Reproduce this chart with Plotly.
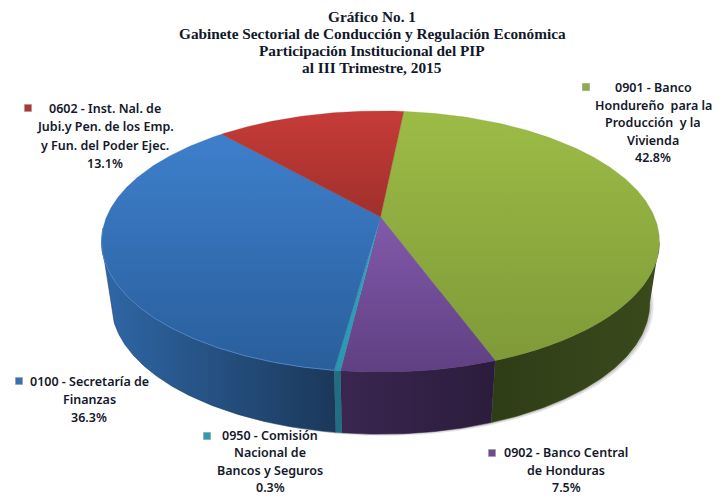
import numpy as np
import plotly.graph_objects as go

# ---- data ----
codes = ["0901", "0902", "0950", "0100", "0602"]
shares = [42.8, 7.5, 0.3, 36.3, 13.1]
title_lines = ["Gráfico No. 1",
               "Gabinete Sectorial de Conducción y Regulación Económica",
               "Participación Institucional del PIP",
               "al III Trimestre, 2015"]
label_lines = [
    ["0901 - Banco", "Hondureño  para la", "Producción  y la", "Vivienda", "42.8%"],
    ["0902 - Banco Central", "de Honduras", "7.5%"],
    ["0950 - Comisión", "Nacional de", "Bancos y Seguros", "0.3%"],
    ["0100 - Secretaría de", "Finanzas", "36.3%"],
    ["0602 - Inst. Nal. de", "Jubi.y Pen. de los Emp.", "y Fun. del Poder Ejec.", "13.1%"],
]

# ---- style / layout ----
W, H = 726, 497
CX, CY = 380.5, 217          # apex on screen
B, A, K = 274.0, 126.0, 0.188  # perspective disc projection
DEPTH, BOT_SCALE = 62.0, 0.965
START = 5.75
top_cols = [("#9cbc46", "#7f9a38"), ("#8259ab", "#5f4082"), ("#2fa9c4", "#2a96ae"),
            ("#3e7fcc", "#295e9b"), ("#c63b37", "#a0302c")]
wall_cols = [("#2f3d17", "#3a4a1c"), ("#3a2650", "#2b1c3c"), ("#1f6f80", "#1f6f80"),
             ("#2f67a6", "#1b385a"), ("#7a2522", "#7a2522")]
key_cols = ["#8fae3f", "#6d4b94", "#2b9cb5", "#3670b5", "#b53431"]
key_pos = [(586, 87), (492, 453), (207, 436), (19, 381), (28, 108)]
label_pos = [(653, [87, 105, 122, 140, 157]),
             (566, [452.5, 470, 487.5]),
             (270, [435, 452.5, 470, 487.5]),
             (89, [381, 399, 417]),
             (105, [108, 126, 145, 163])]
title_ys = [16, 33, 50, 67]


def project(deg):
    t = np.radians(deg)
    u, v = np.sin(t), -np.cos(t)
    w = 1 / (1 - K * v)
    return B * u * w, A * v * w


def rim(a0, a1, scale=1.0, dy=0.0):
    n = max(2, int(abs(a1 - a0) * 2) + 1)
    X, Y = project(np.linspace(a0, a1, n))
    return CX + X * scale, CY + Y + dy


fig = go.Figure()
sweeps = np.array(shares) / sum(shares) * 360
edges = START + np.concatenate([[0], np.cumsum(sweeps)])

# the disc's silhouette runs through these two rim angles
VIS0, VIS1 = 101, 259

# soft drop shadow below the disc
for off, col in [(4, "#e6e6e6"), (2, "#c8c8c8")]:
    xb, yb = rim(VIS0 - 8, VIS1 + 2, BOT_SCALE, DEPTH + off * 0.4)
    fig.add_trace(go.Scatter(x=xb + off, y=yb, mode="lines", fill="toself", fillcolor=col,
                             line=dict(width=0), hoverinfo="skip"))

# side walls, only where they face the viewer
for i in range(len(shares)):
    a0, a1 = max(edges[i], VIS0), min(edges[i + 1], VIS1)
    if a1 <= a0:
        continue
    xt, yt = rim(a0, a1)
    xb, yb = rim(a0, a1, BOT_SCALE, DEPTH)
    fig.add_trace(go.Scatter(
        x=np.concatenate([xt, xb[::-1]]), y=np.concatenate([yt, yb[::-1]]),
        mode="lines", fill="toself", line=dict(width=0.5, color=wall_cols[i][1]),
        fillgradient=dict(type="horizontal",
                          colorscale=[[0, wall_cols[i][0]], [1, wall_cols[i][1]]]),
        hoverinfo="skip"))

# top faces (gradient runs bottom to top on screen)
for i in range(len(shares)):
    xt, yt = rim(edges[i], edges[i + 1])
    fig.add_trace(go.Scatter(
        x=np.concatenate([[CX], xt, [CX]]), y=np.concatenate([[CY], yt, [CY]]),
        mode="lines", fill="toself", line=dict(width=0.3, color=top_cols[i][1]),
        fillgradient=dict(type="vertical",
                          colorscale=[[0, top_cols[i][1]], [1, top_cols[i][0]]]),
        name=codes[i], hoverinfo="name"))

# pale highlight on the front rim of the blue slice
xh, yh = rim(edges[3], VIS1 + 6)
fig.add_trace(go.Scatter(x=xh, y=yh, mode="lines", line=dict(width=1, color="#4f86c8"),
                         hoverinfo="skip"))

annotations = []
for line, y in zip(title_lines, title_ys):
    annotations.append(dict(x=372, y=y, text=f"<b>{line}</b>", showarrow=False, xref="x", yref="y",
                            font=dict(family="Liberation Serif", size=15.3, color="#10182a")))
for (x, ys), lines in zip(label_pos, label_lines):
    for y, line in zip(ys, lines):
        annotations.append(dict(x=x, y=y, text=line, showarrow=False, xref="x", yref="y",
                                font=dict(family="Noto Sans", size=12.5, color="#14182a", weight=600)))

shapes = [dict(type="rect", x0=x - 3.5, x1=x + 3.5, y0=y - 3.5, y1=y + 3.5, xref="x", yref="y",
               fillcolor=c, line=dict(width=0.6, color="#999999"))
          for (x, y), c in zip(key_pos, key_cols)]

fig.update_layout(
    width=W, height=H, margin=dict(l=0, r=0, t=0, b=0), showlegend=False,
    paper_bgcolor="white", plot_bgcolor="white", annotations=annotations, shapes=shapes,
    xaxis=dict(range=[0, W], visible=False, fixedrange=True),
    yaxis=dict(range=[H, 0], visible=False, fixedrange=True),
)
fig.write_html("out.html", config=dict(displayModeBar=False),
               post_script="document.body.style.margin='0';document.body.style.overflow='hidden';")
